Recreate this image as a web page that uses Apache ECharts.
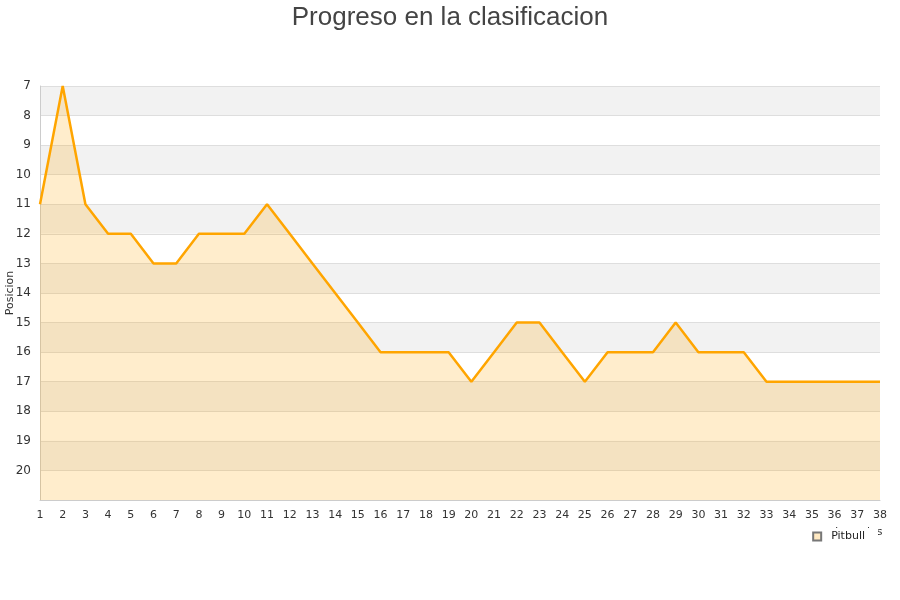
<!DOCTYPE html>
<html>
<head>
<meta charset="utf-8">
<script src="https://cdn.jsdelivr.net/npm/echarts@6/dist/echarts.min.js"></script>
<style>html,body{margin:0;padding:0;background:#fff}#c{width:900px;height:600px}</style>
</head>
<body>
<div id="c"></div>
<script>
const jornadas = ['1','2','3','4','5','6','7','8','9','10','11','12','13','14','15','16','17','18','19','20','21','22','23','24','25','26','27','28','29','30','31','32','33','34','35','36','37','38'];
const posiciones = [11,7,11,12,12,13,13,12,12,12,11,12,13,14,15,16,16,16,16,17,16,15,15,16,17,16,16,16,15,16,16,16,17,17,17,17,17,17];
const serieNombre = 'Pitbull';
const titulo = 'Progreso en la clasificacion';

const chart = echarts.init(document.getElementById('c'));
chart.setOption({
  animation: false,
  title: {
    text: titulo, left: 'center', top: 0,
    textStyle: { fontFamily: 'Liberation Sans, Arial, sans-serif', fontSize: 26, fontWeight: 'normal', color: '#444' }
  },
  grid: { left: 40, right: 20, top: 86, bottom: 100, containLabel: false, outerBoundsMode: 'none' },
  legend: {
    data: [{ name: serieNombre, icon: 'rect' }],
    right: 22, top: 528, itemWidth: 8, itemHeight: 8, itemGap: 6,
    backgroundColor: '#fff', padding: [3, 13, 9, 5], z: 10,
    textStyle: { fontFamily: 'DejaVu Sans, sans-serif', fontSize: 11, color: '#222', padding: [0, 0, 0, 5] }
  },
  xAxis: {
    type: 'category', data: jornadas, boundaryGap: false,
    name: 'Jornadas', nameLocation: 'end', nameGap: -45, nameMoveOverlap: false,
    nameTextStyle: { fontFamily: 'DejaVu Sans, sans-serif', fontSize: 11, color: '#333',
      verticalAlign: 'top', padding: [27, 0, 0, 0] },
    axisLine: { lineStyle: { color: '#ccc' } },
    axisTick: { show: false },
    axisLabel: { fontFamily: 'DejaVu Sans, sans-serif', fontSize: 11, color: '#333', margin: 10 }
  },
  yAxis: {
    type: 'value', inverse: true, min: 7, max: 21, interval: 1,
    name: 'Posicion', nameLocation: 'middle', nameGap: 24, nameMoveOverlap: false,
    nameTextStyle: { fontFamily: 'DejaVu Sans, sans-serif', fontSize: 11, color: '#333' },
    axisLine: { show: true, lineStyle: { color: '#ccc' } },
    axisTick: { show: false },
    axisLabel: { fontFamily: 'DejaVu Sans, sans-serif', fontSize: 12, color: '#333', margin: 9,
      formatter: v => v === 21 ? '' : String(v) },
    splitLine: { show: true, lineStyle: { color: '#dedede' } },
    splitArea: { show: true, areaStyle: { color: ['#f2f2f2', '#ffffff'] } }
  },
  series: [{
    name: serieNombre, type: 'line', data: posiciones,
    symbol: 'none', smooth: false,
    lineStyle: { color: '#FFA500', width: 2.5 },
    itemStyle: { color: '#FFE9C2', borderColor: '#777', borderWidth: 1 },
    areaStyle: { origin: 'end', color: 'rgba(255,165,0,0.2)', opacity: 1 }
  }]
});
</script>
</body>
</html>
